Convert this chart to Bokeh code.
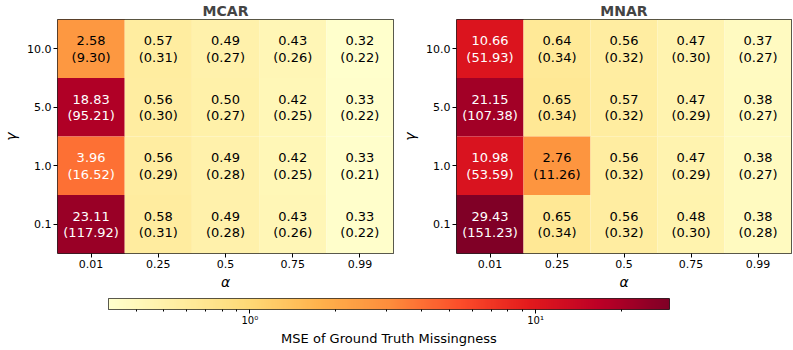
import numpy as np
from bokeh.plotting import figure
from bokeh.models import ColumnDataSource, LogColorMapper, FixedTicker, Range1d
from bokeh.layouts import column, row
from bokeh.embed import file_html
from bokeh.resources import INLINE
from bokeh.core.properties import value

# ---------------- data ----------------
alphas = ["0.01", "0.25", "0.5", "0.75", "0.99"]
gammas = ["10.0", "5.0", "1.0", "0.1"]  # top to bottom

mcar_mean = [
    [2.58, 0.57, 0.49, 0.43, 0.32],
    [18.83, 0.56, 0.50, 0.42, 0.33],
    [3.96, 0.56, 0.49, 0.42, 0.33],
    [23.11, 0.58, 0.49, 0.43, 0.33],
]
mcar_std = [
    [9.30, 0.31, 0.27, 0.26, 0.22],
    [95.21, 0.30, 0.27, 0.25, 0.22],
    [16.52, 0.29, 0.28, 0.25, 0.21],
    [117.92, 0.31, 0.28, 0.26, 0.22],
]
mnar_mean = [
    [10.66, 0.64, 0.56, 0.47, 0.37],
    [21.15, 0.65, 0.57, 0.47, 0.38],
    [10.98, 2.76, 0.56, 0.47, 0.38],
    [29.43, 0.65, 0.56, 0.48, 0.38],
]
mnar_std = [
    [51.93, 0.34, 0.32, 0.30, 0.27],
    [107.38, 0.34, 0.32, 0.29, 0.27],
    [53.59, 11.26, 0.32, 0.29, 0.27],
    [151.23, 0.34, 0.32, 0.30, 0.28],
]

titles = ["MCAR", "MNAR"]
x_label = "α"
y_label = "γ"
cbar_label = "MSE of Ground Truth Missingness"
cbar_ticks = [1, 10]
cbar_tick_labels = ["10⁰", "10¹"]
cbar_minor = [0.4, 0.5, 0.6, 0.7, 0.8, 0.9, 2, 3, 4, 5, 6, 7, 8, 9, 20]

# ---------------- colour map (YlOrRd) ----------------
base = ['#ffffcc', '#ffeda0', '#fed976', '#feb24c', '#fd8d3c',
        '#fc4e2a', '#e31a1c', '#bd0026', '#800026']


def interp_palette(cols, n=256):
    rgb = np.array([[int(c[i:i + 2], 16) for i in (1, 3, 5)] for c in cols], float)
    xs = np.linspace(0, 1, len(cols))
    t = np.linspace(0, 1, n)
    out = np.stack([np.interp(t, xs, rgb[:, k]) for k in range(3)], 1)
    return ['#%02x%02x%02x' % tuple(int(round(v)) for v in r) for r in out]


palette = interp_palette(base)
allv = np.array(mcar_mean + mnar_mean, float)
vmin, vmax = float(allv.min()), float(allv.max())
mapper = LogColorMapper(palette=palette, low=vmin, high=vmax)

FONT = "DejaVu Sans"


def heat(title, mean, std, fw, bl, br):
    a, g, m, lab, tc = [], [], [], [], []
    for i, gm in enumerate(gammas):
        for j, al in enumerate(alphas):
            v = mean[i][j]
            a.append(al)
            g.append(gm)
            m.append(v)
            lab.append(f"{v:.2f}\n({std[i][j]:.2f})")
            nrm = (np.log(v) - np.log(vmin)) / (np.log(vmax) - np.log(vmin))
            tc.append("white" if nrm > 0.5 else "black")
    src = ColumnDataSource(dict(a=a, g=g, m=m, lab=lab, tc=tc))
    p = figure(frame_width=fw, frame_height=234, x_range=alphas, y_range=gammas[::-1],
               output_backend="svg", toolbar_location=None,
               min_border_left=bl, min_border_right=br, min_border_top=15,
               min_border_bottom=0, title=title)
    p.rect(x='a', y='g', width=1, height=1, source=src,
           fill_color={'field': 'm', 'transform': mapper}, line_color=None)
    p.text(x='a', y='g', text='lab', source=src, text_color='tc',
           text_align='center', text_baseline='middle',
           text_font=value(FONT), text_font_size="13px", text_line_height=1.1)
    p.grid.visible = False
    p.outline_line_color = "#222222"
    p.outline_line_width = 1
    p.title.align = "center"
    p.title.text_font = FONT
    p.title.text_font_size = "14px"
    p.title.text_font_style = "bold"
    p.title.standoff = 1
    for ax in (p.xaxis, p.yaxis):
        ax.axis_line_color = None
        ax.major_tick_in = 0
        ax.major_tick_out = 4
        ax.major_tick_line_color = "black"
        ax.minor_tick_line_color = None
        ax.major_label_text_font = FONT
        ax.major_label_text_font_size = "11px"
        ax.major_label_text_color = "black"
        ax.axis_label_text_font = FONT
        ax.axis_label_text_font_size = "14px"
        ax.axis_label_text_font_style = "italic"
        ax.axis_label_text_color = "black"
    p.xaxis.axis_label = x_label
    p.yaxis.axis_label = y_label
    p.xaxis.major_label_standoff = 2
    p.xaxis.axis_label_standoff = 3
    p.yaxis.major_label_standoff = 2
    p.yaxis.axis_label_standoff = 5
    return p


p1 = heat(titles[0], mcar_mean, mcar_std, 336, 48, 6)
p2 = heat(titles[1], mnar_mean, mnar_std, 335, 51, 1)

# ---------------- colour bar ----------------
p3 = figure(frame_width=561, frame_height=11, x_axis_type="log",
            x_range=Range1d(vmin, vmax), y_range=Range1d(0, 1),
            output_backend="svg", toolbar_location=None,
            min_border_left=108, min_border_right=108,
            min_border_top=6, min_border_bottom=0)
grad = np.logspace(np.log10(vmin), np.log10(vmax), 512)[None, :]
p3.image(image=[grad], x=vmin, y=0, dw=vmax - vmin, dh=1, color_mapper=mapper)
p3.grid.visible = False
p3.yaxis.visible = False
p3.outline_line_color = "#222222"
ax = p3.xaxis[0]
ax.ticker = FixedTicker(ticks=cbar_ticks, minor_ticks=cbar_minor)
ax.major_label_overrides = {t: l for t, l in zip(cbar_ticks, cbar_tick_labels)}
ax.axis_line_color = None
ax.major_tick_in = 0
ax.major_tick_out = 4
ax.minor_tick_in = 0
ax.minor_tick_out = 2
ax.major_tick_line_color = "black"
ax.minor_tick_line_color = "black"
ax.major_label_text_font = FONT
ax.major_label_text_font_size = "10px"
ax.major_label_text_color = "black"
ax.major_label_standoff = 1
ax.axis_label = cbar_label
ax.axis_label_text_font = FONT
ax.axis_label_text_font_size = "13px"
ax.axis_label_text_font_style = "normal"
ax.axis_label_text_color = "black"
ax.axis_label_standoff = 2

layout = column(row(p1, p2), p3)
open("out.html", "w").write(file_html(layout, INLINE))
